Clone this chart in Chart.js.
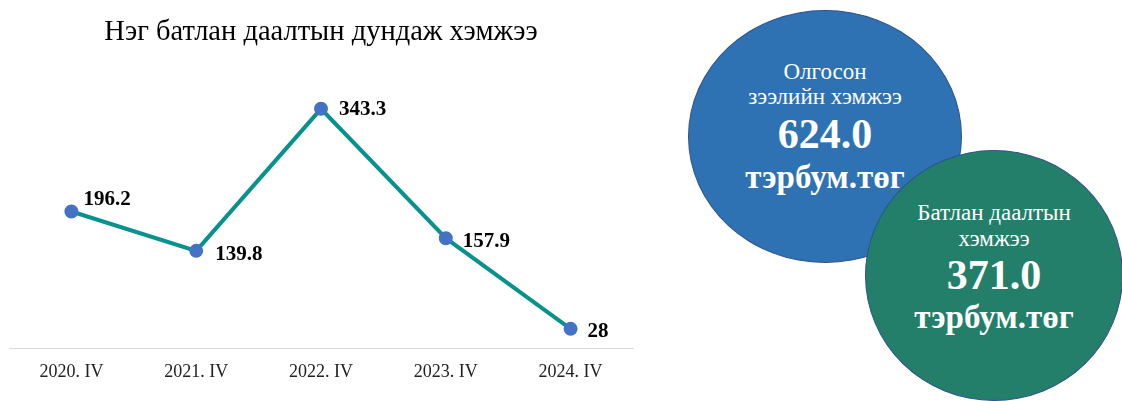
<!DOCTYPE html>
<html>
<head>
<meta charset="utf-8">
<script src="https://cdn.jsdelivr.net/npm/chart.js@4"></script>
<style>
  body { margin: 0; background: #fff; width: 1122px; height: 401px; overflow: hidden; position: relative; font-family: "Liberation Serif", serif; }
  #wrap { position: absolute; left: 0; top: 0; width: 642px; height: 401px; }
  .bubble { position: absolute; border: 1px solid #2f528f; border-radius: 50%; color: #fff; text-align: center; box-sizing: border-box; }
  .bubble div { position: absolute; left: 0; right: 0; white-space: nowrap; line-height: 1; }
  .small { font-size: 23px; }
  .big { font-size: 42px; font-weight: bold; }
  .unit { font-size: 33px; font-weight: bold; }
</style>
</head>
<body>
<div id="wrap"><canvas id="myChart"></canvas></div>

<div class="bubble" id="b1" style="left:688px; top:10px; width:274px; height:253px; background:#2e72b4;">
  <div class="small" style="top:49px">Олгосон</div>
  <div class="small" style="top:74px">зээлийн хэмжээ</div>
  <div class="big" id="v1" style="top:102px"></div>
  <div class="unit" style="top:150px">тэрбум.төг</div>
</div>
<div class="bubble" id="b2" style="left:865px; top:150px; width:258px; height:251px; background:#237f6a;">
  <div class="small" style="top:50px">Батлан даалтын</div>
  <div class="small" style="top:76px">хэмжээ</div>
  <div class="big" id="v2" style="top:103px"></div>
  <div class="unit" style="top:150px">тэрбум.төг</div>
</div>

<script>
// дундаж хэмжээ
var periods = ['2020. IV', '2021. IV', '2022. IV', '2023. IV', '2024. IV'];
var avgValues = [196.2, 139.8, 343.3, 157.9, 28];
var valueLabels = ['196.2', '139.8', '343.3', '157.9', '28'];

// дугуйнууд
var loanTotal = [624.0];
var guaranteeTotal = [371.0];

document.getElementById('v1').textContent = loanTotal[0].toFixed(1);
document.getElementById('v2').textContent = guaranteeTotal[0].toFixed(1);

// label offset from point (dx, dy)
var labelPos = [[12, -12], [19, 4], [18, 1], [17, 3], [17, 3]];

var valueLabelPlugin = {
  id: 'valueLabels',
  afterDatasetsDraw: function(chart) {
    var ctx = chart.ctx;
    var meta = chart.getDatasetMeta(0);
    ctx.save();
    ctx.font = 'bold 21px "Liberation Serif", serif';
    ctx.fillStyle = '#000';
    ctx.textAlign = 'left';
    ctx.textBaseline = 'middle';
    meta.data.forEach(function(pt, i) {
      ctx.fillText(valueLabels[i], pt.x + labelPos[i][0], pt.y + labelPos[i][1]);
    });
    ctx.restore();
  }
};

var ctx = document.getElementById('myChart').getContext('2d');
new Chart(ctx, {
  type: 'line',
  data: {
    labels: periods,
    datasets: [{
      data: avgValues,
      borderColor: '#07928e',
      borderWidth: 4,
      pointBackgroundColor: '#4472c4',
      pointBorderColor: '#4472c4',
      pointRadius: 5,
      tension: 0
    }]
  },
  options: {
    responsive: true,
    maintainAspectRatio: false,
    animation: false,
    layout: { padding: { left: 9, right: 9, top: 0, bottom: 5 } },
    plugins: {
      legend: { display: false },
      tooltip: { enabled: false },
      title: {
        display: true,
        text: 'Нэг батлан даалтын дундаж хэмжээ',
        color: '#000',
        font: { family: '"Liberation Serif", serif', size: 28.5, weight: 'normal' },
        padding: { top: 15, bottom: 34 }
      }
    },
    scales: {
      x: {
        offset: true,
        grid: { display: false, drawTicks: false },
        border: { display: true, color: '#d9d9d9', width: 1 },
        ticks: {
          color: '#222',
          padding: 13,
          font: { family: '"Liberation Serif", serif', size: 18 }
        }
      },
      y: {
        display: false,
        min: 0,
        max: 380
      }
    }
  },
  plugins: [valueLabelPlugin]
});
</script>
</body>
</html>
